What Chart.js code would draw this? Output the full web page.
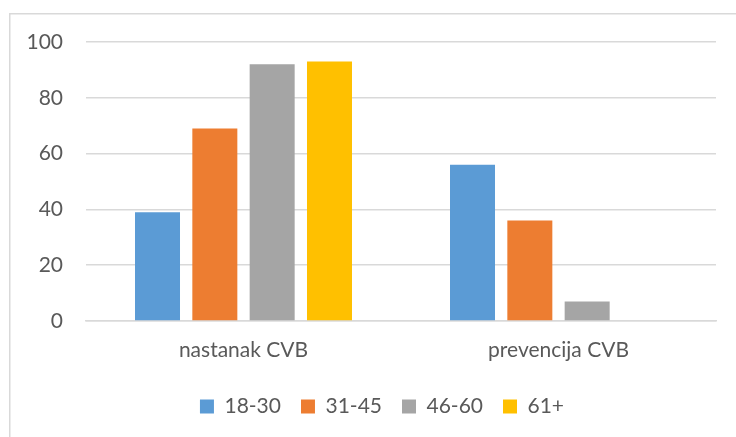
<!DOCTYPE html>
<html>
<head>
<meta charset="utf-8">
<script src="https://cdn.jsdelivr.net/npm/chart.js@4/dist/chart.umd.min.js"></script>
<style>
html,body{margin:0;padding:0;background:#fff;}
#wrap{width:736px;height:437px;position:relative;}
</style>
</head>
<body>
<div id="wrap"><canvas id="c" width="736" height="437"></canvas></div>
<script>
const categories = ["nastanak CVB", "prevencija CVB"];
const seriesNames = ["18-30", "31-45", "46-60", "61+"];
const s1830 = [39, 56];
const s3145 = [69, 36];
const s4660 = [92, 7];
const s61 = [93, 0];
const yTicks = [0, 20, 40, 60, 80, 100];
const colors = ["#5B9BD5", "#ED7D31", "#A5A5A5", "#FFC000"];

const FONT = "Lato, 'Open Sans', sans-serif";
const TXT = "#595959";
const GRID = "#d9d9d9";
const FS = 21;

const frame = {
  id: 'frame',
  beforeDraw(chart) {
    const ctx = chart.ctx;
    ctx.save();
    ctx.fillStyle = '#fff';
    ctx.fillRect(0, 0, chart.width, chart.height);
    ctx.strokeStyle = GRID;
    ctx.lineWidth = 1.5;
    ctx.beginPath();
    ctx.moveTo(9.75, chart.height + 2);
    ctx.lineTo(9.75, 13.75);
    ctx.lineTo(chart.width + 2, 13.75);
    ctx.stroke();
    ctx.restore();
  },
  afterLayout(chart) {
    // center legend under the plot the way the original does
    if (chart.legend) { chart.legend.left += 19; chart.legend.right += 19; }
  }
};

const data = [s1830, s3145, s4660, s61];
new Chart(document.getElementById('c'), {
  type: 'bar',
  data: {
    labels: categories,
    datasets: seriesNames.map((n, i) => ({
      label: n,
      data: data[i],
      backgroundColor: colors[i],
      borderWidth: 0,
      barPercentage: 0.785,
      categoryPercentage: 0.728
    }))
  },
  options: {
    responsive: false,
    animation: false,
    devicePixelRatio: 1,
    layout: { padding: { left: 10, right: 20, top: 42, bottom: 10 } },
    plugins: {
      legend: {
        position: 'bottom',
        labels: {
          boxWidth: 14, boxHeight: 14,
          padding: 20,
          color: TXT,
          font: { family: FONT, size: FS }
        }
      },
      tooltip: { enabled: false }
    },
    scales: {
      x: {
        grid: { display: false, drawTicks: false },
        border: { display: true, color: GRID, width: 1.5 },
        ticks: { color: TXT, padding: 17, font: { family: FONT, size: FS } },
        afterFit(s) { s.height = 55; }
      },
      y: {
        min: 0, max: 100,
        afterBuildTicks(s) { s.ticks = yTicks.map(v => ({ value: v })); },
        grid: { color: GRID, lineWidth: 1.5, drawTicks: false },
        border: { display: false },
        ticks: { color: TXT, padding: 23, font: { family: FONT, size: FS } },
        afterFit(s) { s.width = 76; }
      }
    }
  },
  plugins: [frame]
});
</script>
</body>
</html>
